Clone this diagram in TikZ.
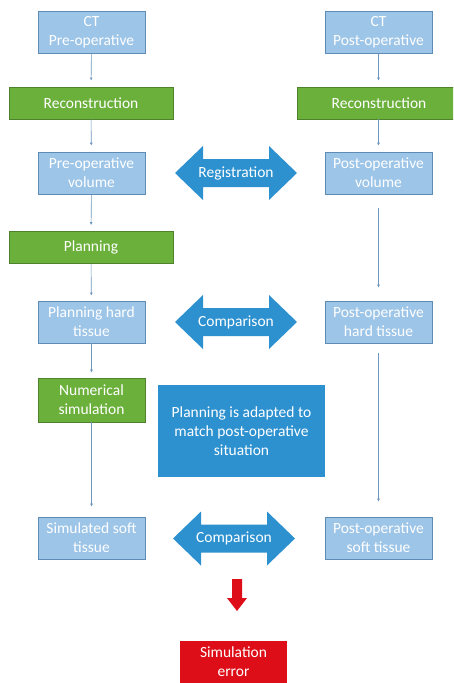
\documentclass[tikz,border=0pt]{standalone}
\usepackage{fontspec}
\setmainfont{Carlito}
\usetikzlibrary{arrows.meta}
\definecolor{lbfill}{RGB}{157,197,232}
\definecolor{lbdraw}{RGB}{95,140,180}
\definecolor{gfill}{RGB}{108,176,60}
\definecolor{gdraw}{RGB}{80,130,45}
\definecolor{dblue}{RGB}{45,145,208}
\definecolor{rfill}{RGB}{222,14,24}
\definecolor{conn}{RGB}{110,150,190}
\tikzset{
  box/.style={rectangle, inner sep=0pt, align=center, text=white,
    font=\fontsize{15.5}{19}\selectfont, line width=0.8pt},
  lb/.style={box, fill=lbfill, draw=lbdraw, minimum width=107pt, minimum height=42pt},
  gr/.style={box, fill=gfill, draw=gdraw, minimum height=32pt},
  bigbox/.style={box, fill=dblue, draw=none, minimum width=167pt, minimum height=92pt},
  redbox/.style={box, fill=rfill, draw=none, minimum width=107pt, minimum height=42pt},
  lbl/.style={text=white, font=\fontsize{15.5}{19}\selectfont, inner sep=0pt},
  conn/.style={draw=conn, line width=0.6pt, -{Latex[length=3pt,width=3pt]}}
}
\newcommand{\dblarrow}[4]{%
  \fill[dblue] (#1,#3) -- (#1+28,#3-27) -- (#1+28,#3-14) -- (#2-28,#3-14) -- (#2-28,#3-27)
    -- (#2,#3) -- (#2-28,#3+27) -- (#2-28,#3+14) -- (#1+28,#3+14) -- (#1+28,#3+27) -- cycle;
  \node[lbl] at ({(#1+#2)/2},#3) {#4};}
\begin{document}
\begin{tikzpicture}[x=1pt,y=-1pt]
\useasboundingbox (0,0) rectangle (453,683);
\clip (0,0) rectangle (453,683);
% left column
\node[lb] (ct1) at (91.5,32.5) {CT\\Pre-operative};
\node[gr, minimum width=164pt] (rec1) at (91,103) {Reconstruction};
\node[lb] (vol1) at (91.5,173) {Pre-operative\\volume};
\node[gr, minimum width=164pt] (plan) at (91,247.5) {Planning};
\node[lb] (pht) at (91.5,322) {Planning hard\\tissue};
\node[gr, minimum width=107pt, minimum height=44pt] (num) at (91.5,400) {Numerical\\simulation};
\node[lb] (sst) at (91.5,538) {Simulated soft\\tissue};
% right column
\node[lb] (ct2) at (378.5,32.5) {CT\\Post-operative};
\node[gr, minimum width=164pt] (rec2) at (379,103) {Reconstruction};
\node[lb] (vol2) at (378.5,173) {Post-operative\\volume};
\node[lb] (pht2) at (378.5,322) {Post-operative\\hard tissue};
\node[lb] (pst2) at (378.5,538) {Post-operative\\soft tissue};
% middle
\node[bigbox] (adapt) at (241.5,431) {Planning is adapted to\\match post-operative\\situation};
\dblarrow{175}{297}{173}{Registration}
\dblarrow{175}{297}{322}{Comparison}
\dblarrow{173}{295}{538.5}{Comparison}
\node[redbox] (err) at (233.5,662) {Simulation\\error};
\fill[rfill] (232,579) -- (242,579) -- (242,598) -- (247,598) -- (237,611) -- (227,598) -- (232,598) -- cycle;
% connectors
\draw[conn, shorten >=6pt] (ct1) -- (rec1);
\draw[conn, shorten >=6pt] (rec1) -- (vol1);
\draw[conn, shorten >=6pt] (vol1) -- (plan);
\draw[conn, shorten >=5pt] (plan) -- (pht);
\draw[conn, shorten >=5pt] (pht) -- (num);
\draw[conn, shorten >=10pt] (num) -- (sst);
\draw[conn, shorten >=6pt] (ct2) -- (ct2 |- rec2.north);
\draw[conn, shorten >=6pt] (rec2.south -| vol2) -- (vol2);
\draw[conn, shorten <=14pt, shorten >=13pt] (vol2) -- (pht2);
\draw[conn, shorten <=10pt, shorten >=15pt] (pht2) -- (pst2);
\end{tikzpicture}
\end{document}
